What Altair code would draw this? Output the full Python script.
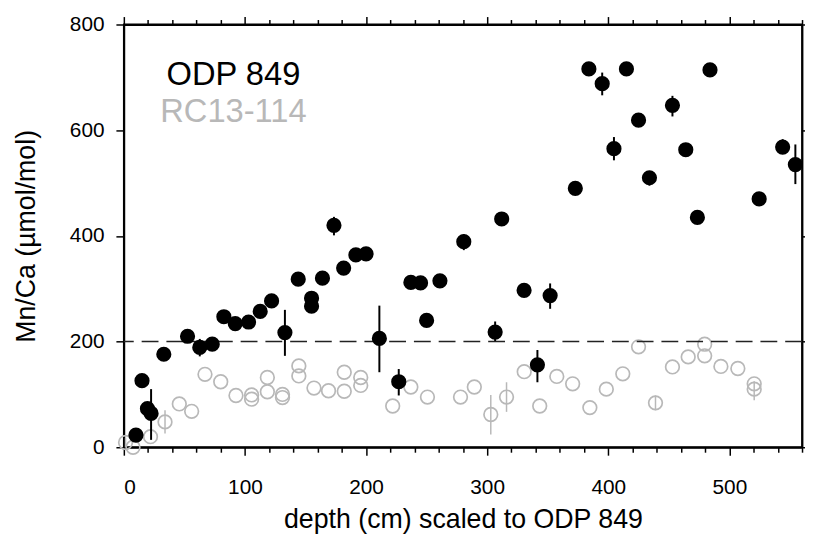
import altair as alt
import pandas as pd

# ODP 849 (black, filled)
odp_depth = [10, 15, 19.5, 22.5, 33, 52.6, 62.7, 73, 82.6, 92, 103, 112.6, 122, 133,
             144, 155, 155, 164, 173.5, 181.5, 191.6, 200, 211, 227, 237, 245, 250, 261,
             280.7, 306.6, 312, 330.5, 341.5, 352, 372.8, 384, 395, 404.7, 415, 425, 434,
             453, 464, 473.6, 484, 524.6, 544, 554.5]
odp_mnca = [23, 126, 73, 64, 176, 210, 189, 195, 247, 234, 237, 257, 277, 217,
            318, 282, 267, 320, 420, 339, 364, 366, 206, 124, 312, 311, 240, 315,
            389, 218, 432, 297, 156, 287, 490, 716, 688, 565, 716, 619, 510,
            647, 563, 435, 714, 470, 568, 535]

# ODP 849 error bars
odp_err_depth = [22.5, 62.7, 133, 173.5, 211, 227, 280.7, 306.6, 341.5, 352, 395, 404.7, 434, 453, 544, 554.5]
odp_err_lo = [14, 172, 173, 401, 142, 98, 373, 201, 123, 262, 666, 543, 495, 626, 555, 498]
odp_err_hi = [110, 205, 260, 436, 268, 148, 403, 238, 184, 310, 709, 587, 520, 665, 583, 573]

# RC13-114 (grey, open)
rc_depth = [1.4, 7.6, 22, 34, 45.8, 56, 67, 80, 92.6, 105.5, 105.5, 118.5, 118.5, 131, 131,
            144.5, 144.5, 157, 169, 182, 182, 195.6, 195.6, 222, 237, 250.7, 278, 289.4,
            303, 316, 330.6, 343.4, 357.5, 370.6, 384.8, 398.4, 412, 425, 439, 453, 466,
            479.6, 479.6, 493, 507, 520.5, 520.5]
rc_mnca = [9, 0, 20, 48, 82, 68, 138, 124, 98, 99, 91, 132, 105, 100, 94,
           154, 135, 112, 107, 142, 106, 132, 117, 78, 114, 95, 95, 114,
           62, 95, 143, 78, 134, 120, 75, 110, 139, 190, 84, 152, 171,
           195, 173, 153, 149, 120, 110]

# RC13-114 error bars
rc_err_depth = [1.4, 34, 303, 316, 439, 520.5]
rc_err_lo = [0, 26, 24, 67, 70, 89]
rc_err_hi = [18, 70, 99, 123, 98, 125]

threshold = [200]
x_ticks = list(range(0, 561, 20))
y_ticks = [0, 200, 400, 600, 800]

legend_labels = ["ODP 849", "RC13-114"]
legend_x = [90.5, 90.5]
legend_y = [686, 616]

FONT = "Liberation Sans"
GREY = "#b8b8b8"

odp = pd.DataFrame({"depth": odp_depth, "mnca": odp_mnca})
odp_err = pd.DataFrame({"depth": odp_err_depth, "lo": odp_err_lo, "hi": odp_err_hi})
rc = pd.DataFrame({"depth": rc_depth, "mnca": rc_mnca})
rc_err = pd.DataFrame({"depth": rc_err_depth, "lo": rc_err_lo, "hi": rc_err_hi})
thr = pd.DataFrame({"v": threshold})
leg = pd.DataFrame({"label": legend_labels, "x": legend_x, "y": legend_y})

xs = alt.Scale(domain=[0, 560], nice=False, zero=False)
ys = alt.Scale(domain=[0, 800], nice=False, zero=False)

major_cond = {"condition": {"test": "datum.value % 100 === 0", "value": 8}, "value": 5}

x_bottom = alt.Axis(orient="bottom", values=x_ticks,
                    labelExpr="datum.value % 100 === 0 ? datum.label : ''",
                    tickSize=major_cond, labelOverlap=False, labelPadding=22,
                    labelFontSize=21, title="depth (cm) scaled to ODP 849",
                    titleFontSize=27, titlePadding=9)
y_left = alt.Axis(orient="left", values=y_ticks, tickSize=8, labelPadding=12,
                  labelFontSize=21, title="Mn/Ca (µmol/mol)", titleFontSize=27,
                  titlePadding=29)
x_top = alt.Axis(orient="top", values=x_ticks, labels=False, tickSize=major_cond, title=None)
y_right = alt.Axis(orient="right", values=y_ticks, labels=False, tickSize=5, title=None)

rc_bars = alt.Chart(rc_err).mark_rule(color=GREY, strokeWidth=1.5).encode(
    x=alt.X("depth:Q", scale=xs, axis=None),
    y=alt.Y("lo:Q", scale=ys, axis=None),
    y2="hi:Q",
)
rc_pts = alt.Chart(rc).mark_point(shape="circle", filled=False, color=GREY,
                                   strokeWidth=1.7, size=190, opacity=1).encode(
    x=alt.X("depth:Q", scale=xs, axis=x_top),
    y=alt.Y("mnca:Q", scale=ys, axis=y_right),
)
rule = alt.Chart(thr).mark_rule(color="#222222", strokeWidth=1.5, strokeDash=[17, 8]).encode(
    y=alt.Y("v:Q", scale=ys, axis=None),
)
odp_bars = alt.Chart(odp_err).mark_rule(color="black", strokeWidth=2).encode(
    x=alt.X("depth:Q", scale=xs, axis=None),
    y=alt.Y("lo:Q", scale=ys, axis=None),
    y2="hi:Q",
)
odp_pts = alt.Chart(odp).mark_circle(color="black", size=235, opacity=1).encode(
    x=alt.X("depth:Q", scale=xs, axis=x_bottom),
    y=alt.Y("mnca:Q", scale=ys, axis=y_left),
)
texts = alt.Chart(leg).mark_text(font=FONT, fontSize=33, align="center",
                                 baseline="alphabetic").encode(
    x=alt.X("x:Q", scale=xs, axis=None),
    y=alt.Y("y:Q", scale=ys, axis=None),
    text="label:N",
    color=alt.Color("label:N", scale=alt.Scale(domain=legend_labels, range=["black", GREY]),
                    legend=None),
)

chart = alt.layer(rc_bars, rc_pts, rule, odp_bars, odp_pts, texts).resolve_axis(
    x="independent", y="independent"
).properties(
    width=685, height=427,
    autosize=alt.AutoSizeParams(type="none"),
    padding={"left": 117, "top": 14, "right": 3, "bottom": 90},
).configure_view(
    stroke="black", strokeWidth=1.8
).configure_axis(
    grid=False, domainColor="black", domainWidth=1.8, tickColor="black", tickWidth=1.5,
    labelColor="black", titleColor="black", labelFont=FONT, titleFont=FONT,
    titleFontWeight="normal"
)

chart.save("out.html", embed_options={"renderer": "svg", "actions": False})
